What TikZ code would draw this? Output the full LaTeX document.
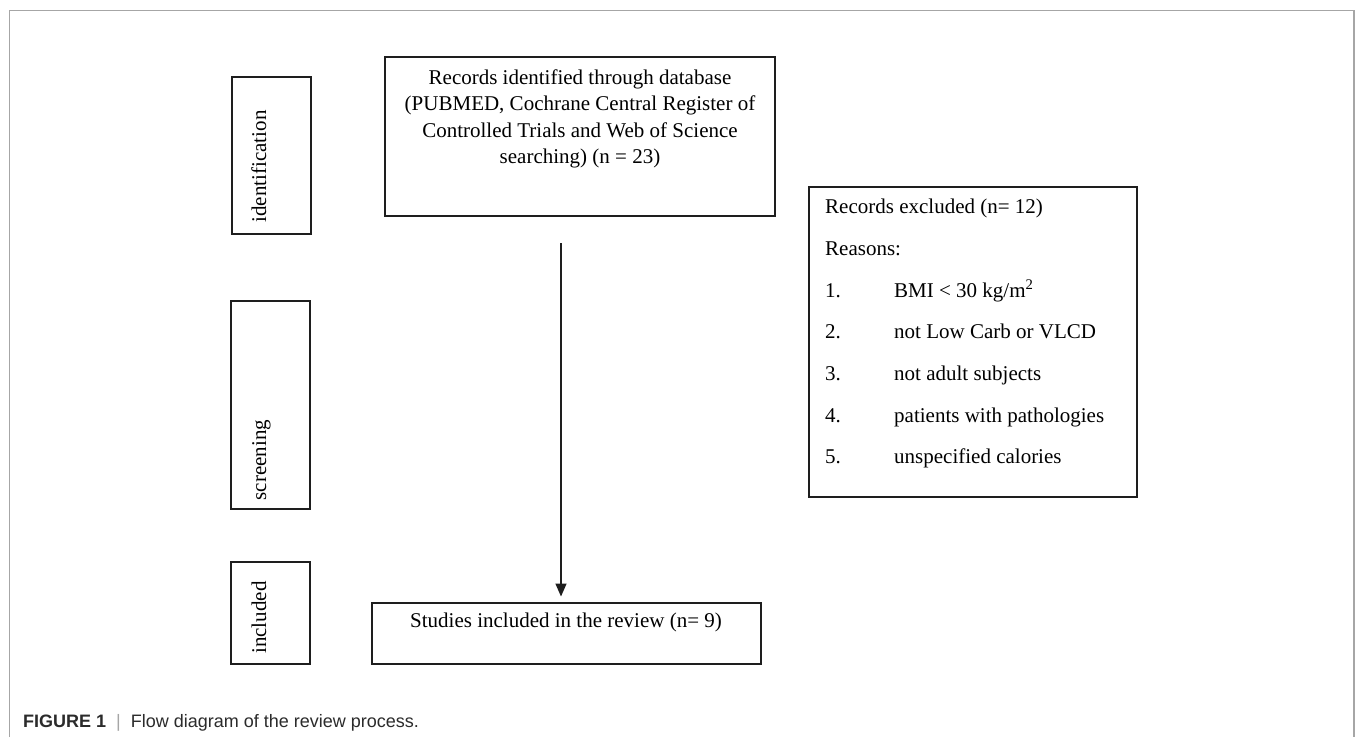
\documentclass[tikz,border=0pt]{standalone}
\usepackage{fontspec}
\setmainfont{Liberation Serif}
\newfontfamily\capfont{Liberation Sans}
\usetikzlibrary{arrows.meta}
\definecolor{framegray}{HTML}{A6A6A6}
\definecolor{boxline}{HTML}{1E1E1E}
\definecolor{captext}{HTML}{2B2B2B}
\begin{document}
\begin{tikzpicture}[x=1pt,y=-1pt,
  box/.style={draw=boxline,line width=1.3pt,inner sep=0pt,fill=none},
  txt/.style={inner sep=0pt,font=\fontsize{21}{26.3}\selectfont,text=black},
  side/.style={txt,rotate=90,anchor=base},
  arr/.style={draw=boxline,line width=1.4pt,-{Triangle[length=13pt,width=11pt]}}]
\useasboundingbox (0,0) rectangle (1355,737);
\fill[white] (0,0) rectangle (1355,737);
% outer frame
\draw[framegray,line width=1.5pt] (9.5,737) -- (9.5,10.5) -- (1354,10.5) -- (1354,737);
% side boxes
\node[box,minimum width=79pt,minimum height=157pt] (idbox) at (271.5,155.5) {};
\node[box,minimum width=79pt,minimum height=208pt] (scbox) at (270.5,405) {};
\node[box,minimum width=79pt,minimum height=102pt] (inbox) at (270.5,613) {};
\node[side] (idtxt) at (266,166.5) {identification};
\node[side] (sctxt) at (266,460) {screening};
\node[side] (intxt) at (266,617.5) {included};
% main boxes
\node[box,minimum width=390pt,minimum height=159pt] (topbox) at (580,136.5) {};
\node[txt,anchor=base] (t1) at (580,84) {Records identified through database};
\node[txt,anchor=base] (t2) at (580,110.5) {(PUBMED, Cochrane Central Register of};
\node[txt,anchor=base] (t3) at (580,137) {Controlled Trials and Web of Science};
\node[txt,anchor=base] (t4) at (580,163) {searching) (n = 23)};
\node[box,minimum width=389pt,minimum height=61pt] (stbox) at (566.5,633.5) {};
\node[txt,anchor=base] (st) at (566,627) {Studies included in the review (n= 9)};
% excluded box
\node[box,minimum width=328pt,minimum height=310pt] (exbox) at (973,342) {};
\node[txt,anchor=base west] (e0) at (825,213) {Records excluded (n= 12)};
\node[txt,anchor=base west] (e1) at (825,255) {Reasons:};
\node[txt,anchor=base west] (n1) at (825,297) {1.};
\node[txt,anchor=base west] (r1) at (894,297) {BMI < 30 kg/m\textsuperscript{2}};
\node[txt,anchor=base west] (n2) at (825,338.5) {2.};
\node[txt,anchor=base west] (r2) at (894,338.5) {not Low Carb or VLCD};
\node[txt,anchor=base west] (n3) at (825,380) {3.};
\node[txt,anchor=base west] (r3) at (894,380) {not adult subjects};
\node[txt,anchor=base west] (n4) at (825,422) {4.};
\node[txt,anchor=base west] (r4) at (894,422) {patients with pathologies};
\node[txt,anchor=base west] (n5) at (825,463) {5.};
\node[txt,anchor=base west] (r5) at (894,463) {unspecified calories};
% arrow
\coordinate (astart) at (561,243);
\coordinate (aend) at (561,596.5);
\draw[arr] (astart) -- (aend);
% caption
\node[inner sep=0pt,anchor=base west,font=\capfont\fontsize{18}{22}\selectfont,text=captext] (cap) at (23,727)
  {\textbf{FIGURE 1}\ \ \textcolor{framegray}{|}\ \ Flow diagram of the review process.};
\end{tikzpicture}
\end{document}
